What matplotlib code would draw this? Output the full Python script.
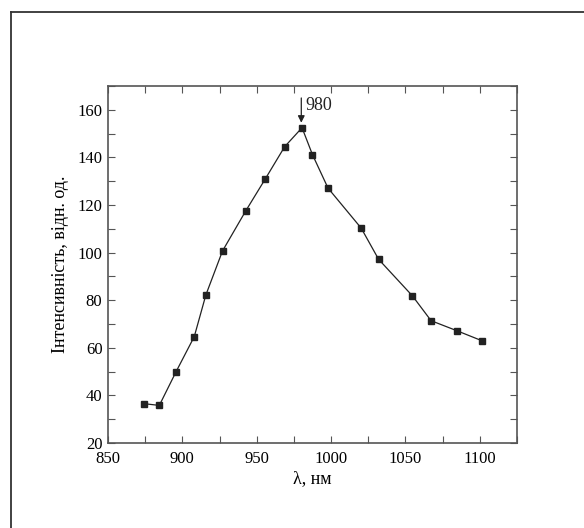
import matplotlib
matplotlib.use('Agg')
import matplotlib.pyplot as plt
from matplotlib.lines import Line2D
from matplotlib.ticker import MultipleLocator

plt.rcParams['font.family'] = ['Liberation Serif', 'DejaVu Serif']

# wavelength, nm
wavelength = [874.5, 884.5, 895.8, 908.0, 915.8, 927.0, 942.5, 955.8, 968.8,
              980.5, 987.5, 998.0, 1020.3, 1032.0, 1054.8, 1067.3, 1085.0, 1101.8]
# intensity, a.u.
intensity = [36.5, 35.8, 50.0, 64.7, 82.2, 100.7, 117.4, 131.0, 144.5,
             152.5, 141.2, 127.1, 110.3, 97.2, 81.8, 71.4, 67.1, 62.9]

peak_x = 980
peak_label = '980'

fig = plt.figure(figsize=(5.84, 5.28), dpi=100)
ax = fig.add_axes([0.185, 0.161, 0.700, 0.676])

ax.plot(wavelength, intensity, color='#222222', linewidth=0.9,
        marker='s', markersize=4.2, markerfacecolor='#222222',
        markeredgecolor='#222222')

ax.set_xlim(850, 1125)
ax.set_ylim(20, 170)
ax.xaxis.set_major_locator(MultipleLocator(50))
ax.xaxis.set_minor_locator(MultipleLocator(25))
ax.yaxis.set_major_locator(MultipleLocator(20))
ax.yaxis.set_minor_locator(MultipleLocator(10))
ax.tick_params(which='both', direction='in', top=True, right=True,
               color='#555555', labelsize=12)
ax.tick_params(which='major', length=5, width=0.8)
ax.tick_params(which='minor', length=5, width=0.8)
ax.tick_params(axis='x', pad=6)
ax.tick_params(axis='y', pad=4)
for sp in ax.spines.values():
    sp.set_color('#555555')
    sp.set_linewidth(1.2)

ax.set_xlabel('λ, нм', fontsize=13, labelpad=2)
ax.set_ylabel('Інтенсивність, відн. од.', fontsize=13, labelpad=6)

ax.annotate('', xy=(peak_x, 154.6), xytext=(peak_x, 165),
            arrowprops=dict(arrowstyle='-|>', color='#222222', lw=0.9,
                            mutation_scale=10, shrinkA=0, shrinkB=0))
ax.text(peak_x + 3, 162, peak_label, fontsize=13, ha='left', va='center',
        color='#222222')

# outer frame lines of the page
fig.add_artist(Line2D([11 / 584, 11 / 584], [0, 1 - 12 / 528],
                      transform=fig.transFigure, color='#333333', lw=1.3))
fig.add_artist(Line2D([11 / 584, 1], [1 - 12 / 528, 1 - 12 / 528],
                      transform=fig.transFigure, color='#333333', lw=1.3))

fig.savefig('out.png', dpi=100)
